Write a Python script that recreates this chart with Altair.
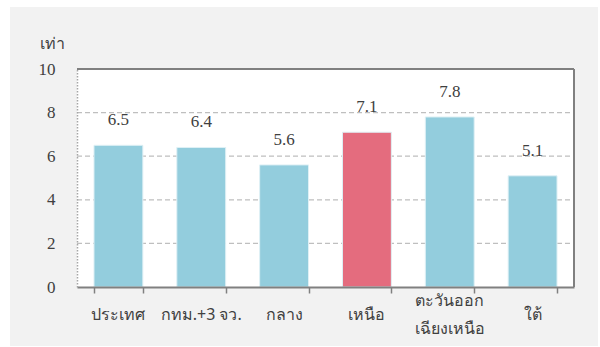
import altair as alt
import pandas as pd

categories = ["ประเทศ", "กทม.+3 จว.", "กลาง", "เหนือ", "ตะวันออก\nเฉียงเหนือ", "ใต้"]
values = [6.5, 6.4, 5.6, 7.1, 7.8, 5.1]
highlight = [False, False, False, True, False, False]
y_ticks = [0, 2, 4, 6, 8, 10]
grid_values = [2, 4, 6, 8]

df = pd.DataFrame({"cat": categories, "val": values, "hl": highlight})
df["label"] = df["val"].map(lambda v: f"{v:.1f}")
gdf = pd.DataFrame({"g": grid_values})

W, H = 497, 218
SERIF = "Liberation Serif"
THAI = "Noto Sans, sans-serif"
TXT = "#404040"

yscale = alt.Scale(domain=[0, 10], nice=False)
xscale = alt.Scale(domain=categories, paddingInner=0.41, paddingOuter=0.205)

x_enc = alt.X("cat:N", sort=categories, title=None, scale=xscale,
              axis=alt.Axis(labels=False,
                            tickBand="extent", tickSize=6, tickColor="#808080", tickWidth=1.5,
                            domainColor="#808080", domainWidth=2, zindex=2))

bg = alt.Chart(df).mark_rect(color="#f2f2f2").encode(
    x=alt.value(-67), x2=alt.value(521), y=alt.value(-62), y2=alt.value(277))

plot_bg = alt.Chart(df).mark_rect(color="white").encode(
    x=alt.value(0), x2=alt.value(W), y=alt.value(0), y2=alt.value(H))

grid = alt.Chart(gdf).mark_rule(color="#bfbfbf", strokeDash=[5, 3], strokeWidth=1.3).encode(
    y=alt.Y("g:Q", scale=yscale), x=alt.value(0), x2=alt.value(W))

bars = alt.Chart(df).mark_bar(stroke="#dff0f5", strokeWidth=1).encode(
    x=x_enc,
    y=alt.Y("val:Q", title="เท่า", scale=yscale,
            axis=alt.Axis(values=y_ticks, labelFont=SERIF, labelFontSize=17, labelColor=TXT,
                          labelPadding=22, tickSize=0, grid=False,
                          domainColor="#a6a6a6", domainDash=[1.5, 1.5], domainWidth=1.5,
                          titleAngle=0, titleX=-25, titleY=-26, titleAlign="center",
                          titleBaseline="middle", titleFont=THAI, titleFontSize=16,
                          titleFontWeight="normal", titleColor=TXT, zindex=2)),
    color=alt.Color("hl:N", scale=alt.Scale(domain=[False, True], range=["#93cddd", "#e46c7e"]),
                    legend=None),
)

labels = alt.Chart(df).mark_text(font=SERIF, fontSize=17, color=TXT, dy=-20,
                                 baseline="alphabetic").encode(
    x=alt.X("cat:N", sort=categories, scale=xscale), y=alt.Y("val:Q"), text="label:N")

xlab_single = alt.Chart(df).transform_filter("indexof(datum.cat, '\\n') < 0").mark_text(
    font=THAI, fontSize=16, color=TXT, baseline="middle").encode(
    x=alt.X("cat:N", sort=categories, scale=xscale), y=alt.value(H + 28), text="cat:N")

xlab_multi = alt.Chart(df).transform_filter("indexof(datum.cat, '\\n') >= 0").mark_text(
    font=THAI, fontSize=16, color=TXT, baseline="middle", lineBreak="\n", lineHeight=28).encode(
    x=alt.X("cat:N", sort=categories, scale=xscale), y=alt.value(H + 14), text="cat:N")

top_rule = alt.Chart(df).mark_rule(color="#808080", strokeWidth=1.5).encode(
    x=alt.value(0), x2=alt.value(W), y=alt.value(0))
right_rule = alt.Chart(df).mark_rule(color="#808080", strokeWidth=1.5).encode(
    x=alt.value(W), y=alt.value(0), y2=alt.value(H))

chart = alt.layer(bg, plot_bg, grid, bars, labels, xlab_single, xlab_multi,
                  top_rule, right_rule).properties(
    width=W, height=H,
    autosize=alt.AutoSizeParams(type="none"),
    padding={"left": 77, "top": 69, "right": 26, "bottom": 60},
    background="white",
).configure_view(stroke=None)

chart.save("out.html", embed_options={"renderer": "svg", "actions": False})
